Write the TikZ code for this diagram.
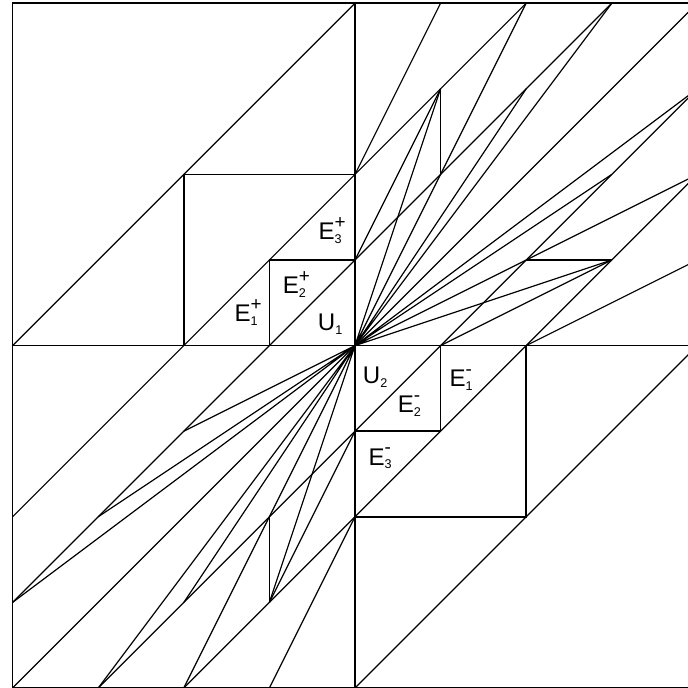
\documentclass[tikz,border=0pt]{standalone}
\usepackage{fontspec}
\setmainfont{Liberation Sans}
\newcommand{\elab}[3]{#1\rlap{\raisebox{3.7pt}{\fontsize{6.3}{7}\selectfont #3}}\raisebox{-1.3pt}{\fontsize{4.2}{5}\selectfont #2}}
\begin{document}
\begin{tikzpicture}[x=1cm,y=1cm,line width=0.4pt,every node/.style={font=\fontsize{8}{9}\selectfont,inner sep=0pt,anchor=base west}]
  \tikzset{frame/.style={line width=0.55pt}}
  \useasboundingbox (-4.147,-4.0) rectangle (3.89,4.037);
  \clip (-4.147,-4.0) rectangle (3.89,4.037);
  \draw[frame] (-4,-4) rectangle (4,4);
  \draw[frame] (-4,0) -- (4,0);
  \draw[frame] (0,-4) -- (0,4);
  \draw[frame] (-2,0) -- (-2,2) -- (0,2);
  \draw[frame] (-1,0) -- (-1,1) -- (0,1);
  \draw[frame] (2,0) -- (2,-2) -- (0,-2);
  \draw[frame] (1,0) -- (1,-1) -- (0,-1);
  \draw (-4,0) -- (0,4);
  \draw (-4,-2) -- (2,4);
  \draw (-4,-3) -- (3,4);
  \draw (-4,-4) -- (4,4);
  \draw (-3,-4) -- (4,3);
  \draw (-2,-4) -- (4,2);
  \draw (0,-4) -- (4,0);
  \draw (0,0) -- (1,3) (0,0) -- (2,4) (0,0) -- (2,3) (0,0) -- (3,4);
  \draw (0,0) -- (4,3) (0,0) -- (3,2) (0,0) -- (4,2) (0,0) -- (3,1);
  \draw (0,2) -- (1,4) (0,1) -- (1,3);
  \draw[frame] (1,2) -- (1,3);
  \draw (2,0) -- (4,1) (1,0) -- (3,1);
  \draw[frame] (2,1) -- (3,1);
  \draw (0,0) -- (-1,-3) (0,0) -- (-2,-4) (0,0) -- (-2,-3) (0,0) -- (-3,-4);
  \draw (0,0) -- (-4,-3) (0,0) -- (-3,-2) (0,0) -- (-2,-1);
  \draw (0,-2) -- (-1,-4) (0,-1) -- (-1,-3);
  \draw[frame] (-1,-2) -- (-1,-3);
  \node (e1p) at (-1.414,0.280) {\elab{E}{1}{+}};
  \node (e2p) at (-0.849,0.604) {\elab{E}{2}{+}};
  \node (e3p) at (-0.432,1.235) {\elab{E}{3}{+}};
  \node (u1) at (-0.44,0.175) {\elab{U}{1}{}};
  \node (u2) at (0.085,-0.447) {\elab{U}{2}{}};
  \node (e1m) at (1.098,-0.48) {\elab{E}{1}{-}};
  \node (e2m) at (0.494,-0.778) {\elab{E}{2}{-}};
  \node (e3m) at (0.152,-1.395) {\elab{E}{3}{-}};
\end{tikzpicture}
\end{document}
